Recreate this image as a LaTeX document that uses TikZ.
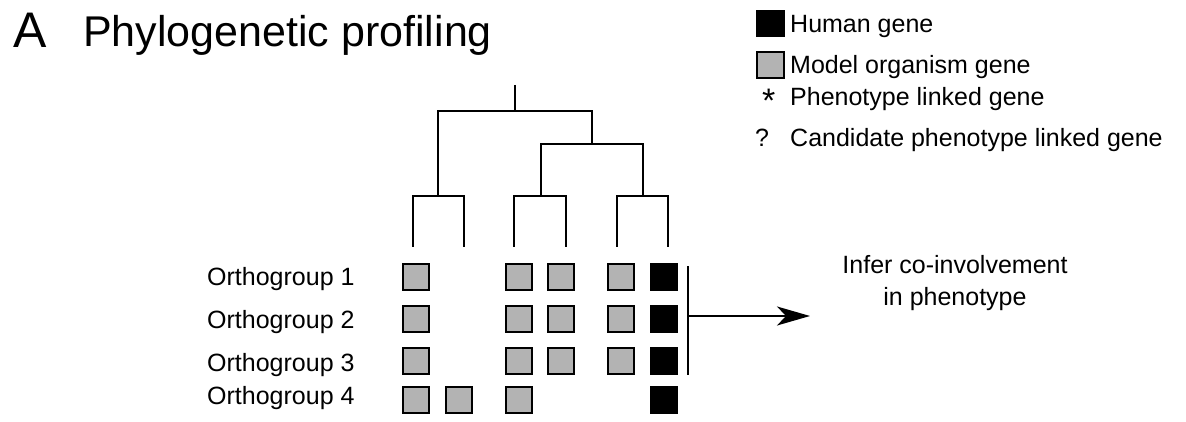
\documentclass[tikz,border=0pt]{standalone}
\usepackage{fontspec}
\setmainfont{Liberation Sans}
\usetikzlibrary{arrows.meta}
\begin{document}
\begin{tikzpicture}[x=1pt,y=-1pt,
  lbl/.style={anchor=base west,inner sep=0pt,font=\fontsize{25}{30}\selectfont},
  gbox/.style={draw=black,line width=2pt,fill={rgb,255:red,179;green,179;blue,179},minimum size=26pt,inner sep=0pt},
  hbox/.style={draw=black,line width=1pt,fill=black,minimum size=27pt,inner sep=0pt},
  branch/.style={line width=2.4pt,line join=miter,line cap=butt}]
\useasboundingbox (0,0) rectangle (1186,422);
% title
\node[anchor=base west,inner sep=0pt,font=\fontsize{50}{60}\selectfont] (tA) at (13,47.5) {A};
\node[anchor=base west,inner sep=0pt,font=\fontsize{43}{52}\selectfont] (title) at (83,47) {Phylogenetic profiling};
% legend
\node[hbox,minimum width=28pt,minimum height=26pt] (lh) at (770.5,23.5) {};
\node[gbox,minimum width=27pt,minimum height=26pt] (lm) at (770.5,65) {};
\node[lbl] (lht) at (790,33) {Human gene};
\node[lbl] (lmt) at (790,74) {Model organism gene};
\node[anchor=base west,inner sep=0pt,font=\fontsize{34}{40}\selectfont] (lst) at (762,112.5) {*};
\node[lbl] (lpt) at (790,106) {Phenotype linked gene};
\node[lbl] (lqt) at (755,147) {?};
\node[lbl] (lct) at (790,147) {Candidate phenotype linked gene};
% tree coordinates
\coordinate (root) at (515,85);
\coordinate (r1) at (515,111);
\coordinate (rl) at (438,111);
\coordinate (rr) at (592,111);
\coordinate (n2) at (592,144);
\coordinate (n2l) at (541,144);
\coordinate (n2r) at (643,144);
\coordinate (c1) at (438,196);
\coordinate (c2) at (541,196);
\coordinate (c3) at (643,196);
\foreach \i/\x in {1/413,2/464,3/514,4/566,5/617,6/668}{
  \coordinate (t\i) at (\x,196);
  \coordinate (l\i) at (\x,247);
}
\draw[branch] (root) -- (r1);
\draw[branch] (c1) -- (rl) -- (rr) -- (n2);
\draw[branch] (c2) -- (n2l) -- (n2r) -- (c3);
\draw[branch] (l1) -- (t1) -- (t2) -- (l2);
\draw[branch] (l3) -- (t3) -- (t4) -- (l4);
\draw[branch] (l5) -- (t5) -- (t6) -- (l6);
% row labels
\node[lbl] (o1) at (207,285) {Orthogroup 1};
\node[lbl] (o2) at (207,328) {Orthogroup 2};
\node[lbl] (o3) at (207,371.5) {Orthogroup 3};
\node[lbl] (o4) at (207,404) {Orthogroup 4};
% boxes
\foreach \r/\y in {1/277,2/319,3/361}{
  \node[gbox] (b\r-1) at (416,\y) {};
  \node[gbox] (b\r-3) at (518.5,\y) {};
  \node[gbox] (b\r-4) at (560.5,\y) {};
  \node[gbox] (b\r-5) at (621,\y) {};
  \node[hbox] (b\r-6) at (664,\y) {};
}
\node[gbox] (b4-1) at (416,400) {};
\node[gbox] (b4-2) at (459,400) {};
\node[gbox] (b4-3) at (518.5,400) {};
\node[hbox] (b4-6) at (664,400) {};
% bracket and arrow
\coordinate (bt) at (688,266);
\coordinate (bb) at (688,375);
\coordinate (bm) at (688,316);
\draw[line width=2pt] (bt) -- (bb);
\node[align=center,inner sep=0pt,font=\fontsize{25}{32}\selectfont,anchor=base] (infer) at (955,305) {Infer co-involvement\\in phenotype};
\coordinate (atip) at (810,316);
\draw[line width=2pt,-{Stealth[length=33pt,width=19pt,inset=9pt]}] (bm) -- (atip);
\end{tikzpicture}
\end{document}
